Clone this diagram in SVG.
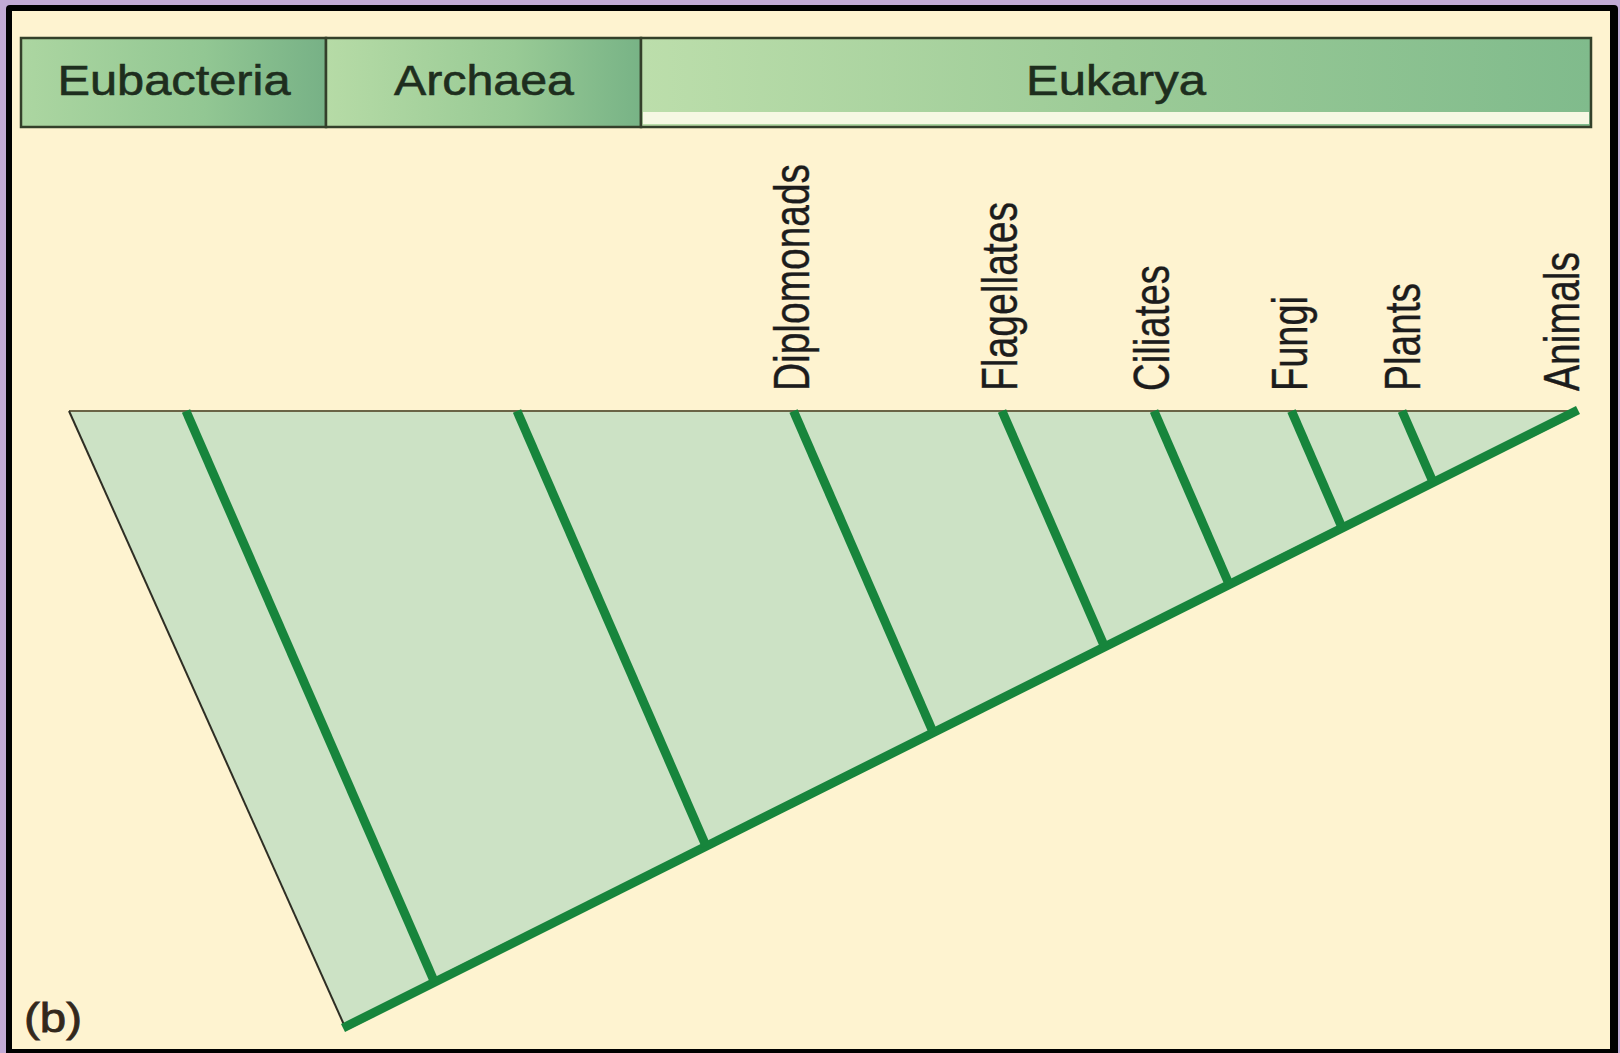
<svg xmlns="http://www.w3.org/2000/svg" width="1620" height="1053" viewBox="0 0 1620 1053">
  <defs>
    <linearGradient id="gEub" x1="0" y1="0" x2="1" y2="0">
      <stop offset="0" stop-color="#acd6a1"/>
      <stop offset="0.6" stop-color="#92c793"/>
      <stop offset="1" stop-color="#77b186"/>
    </linearGradient>
    <linearGradient id="gArc" x1="0" y1="0" x2="1" y2="0">
      <stop offset="0" stop-color="#b6dba6"/>
      <stop offset="0.6" stop-color="#98ca95"/>
      <stop offset="1" stop-color="#78b386"/>
    </linearGradient>
    <linearGradient id="gEuk" x1="0" y1="0" x2="1" y2="0">
      <stop offset="0" stop-color="#bcdeab"/>
      <stop offset="0.5" stop-color="#9ccb97"/>
      <stop offset="1" stop-color="#80bb8c"/>
    </linearGradient>
    <style>
      .hdr { stroke: #34402a; stroke-width: 2.5; }
      .htxt { font-family: "Liberation Sans", Arial, sans-serif; font-size: 43px; fill: #1e2e1e; stroke: #1e2e1e; stroke-width: 0.6; text-anchor: middle; }
      .lbl { font-family: "Liberation Sans", Arial, sans-serif; font-size: 50px; fill: #1c1c1c; stroke: #1c1c1c; stroke-width: 0.4; }
      .br { stroke: #17853c; stroke-width: 9; stroke-linecap: butt; fill: none; }
    </style>
  </defs>

  <!-- frame -->
  <rect x="0" y="0" width="1620" height="1053" fill="#c2aad5"/>
  <rect x="6" y="5" width="1612" height="1060" rx="4" fill="#000"/>
  <rect x="12" y="11" width="1598" height="1038" fill="#fef3d0"/>

  <!-- header -->
  <g id="eubacteria">
    <rect class="hdr" x="21" y="38" width="305" height="89" fill="url(#gEub)"/>
    <text class="htxt" x="174" y="95" textLength="233" lengthAdjust="spacingAndGlyphs">Eubacteria</text>
  </g>
  <g id="archaea">
    <rect class="hdr" x="326" y="38" width="315" height="89" fill="url(#gArc)"/>
    <text class="htxt" x="484" y="95" textLength="180" lengthAdjust="spacingAndGlyphs">Archaea</text>
  </g>
  <g id="eukarya">
    <rect class="hdr" x="641" y="38" width="950" height="89" fill="url(#gEuk)"/>
    <rect x="643" y="112" width="946" height="12" fill="#f6f8e3"/>
    <text class="htxt" x="1116" y="95" textLength="180" lengthAdjust="spacingAndGlyphs">Eukarya</text>
  </g>

  <!-- tree body -->
  <g id="tree">
    <polygon points="69,411 1576,411 345,1027" fill="#cce2c5"/>
    <line x1="69" y1="411" x2="1576" y2="411" stroke="#6a6446" stroke-width="2"/>
    <line x1="69" y1="411" x2="345" y2="1027" stroke="#2e2e24" stroke-width="2"/>
  </g>

  <!-- connectors -->
  <g id="connectors">
    <line class="br" x1="343" y1="1028" x2="1578" y2="410"/>
    <line class="br" x1="186" y1="411" x2="434.5" y2="982"/>
    <line class="br" x1="517" y1="411" x2="706" y2="846"/>
    <line class="br" x1="793.5" y1="411" x2="933" y2="732"/>
    <line class="br" x1="1002" y1="411" x2="1104.5" y2="646.5"/>
    <line class="br" x1="1154" y1="411" x2="1229" y2="584"/>
    <line class="br" x1="1291.5" y1="411" x2="1342" y2="527.5"/>
    <line class="br" x1="1402" y1="411" x2="1433" y2="482"/>
  </g>

  <!-- labels -->
  <g id="diplomonads">
    <text class="lbl" transform="translate(809,391) rotate(-90)" textLength="227" lengthAdjust="spacingAndGlyphs">Diplomonads</text>
  </g>
  <g id="flagellates">
    <text class="lbl" transform="translate(1017,391) rotate(-90)" textLength="189" lengthAdjust="spacingAndGlyphs">Flagellates</text>
  </g>
  <g id="ciliates">
    <text class="lbl" transform="translate(1169,391) rotate(-90)" textLength="126" lengthAdjust="spacingAndGlyphs">Ciliates</text>
  </g>
  <g id="fungi">
    <text class="lbl" transform="translate(1307,391) rotate(-90)" textLength="95" lengthAdjust="spacingAndGlyphs">Fungi</text>
  </g>
  <g id="plants">
    <text class="lbl" transform="translate(1420,391) rotate(-90)" textLength="108" lengthAdjust="spacingAndGlyphs">Plants</text>
  </g>
  <g id="animals">
    <text class="lbl" transform="translate(1579,391) rotate(-90)" textLength="139" lengthAdjust="spacingAndGlyphs">Animals</text>
  </g>

  <g id="panel-label">
    <text x="24" y="1032" font-family="'Liberation Sans', Arial, sans-serif" font-size="40" fill="#33281c" stroke="#33281c" stroke-width="0.8" textLength="58" lengthAdjust="spacingAndGlyphs">(b)</text>
  </g>
</svg>
